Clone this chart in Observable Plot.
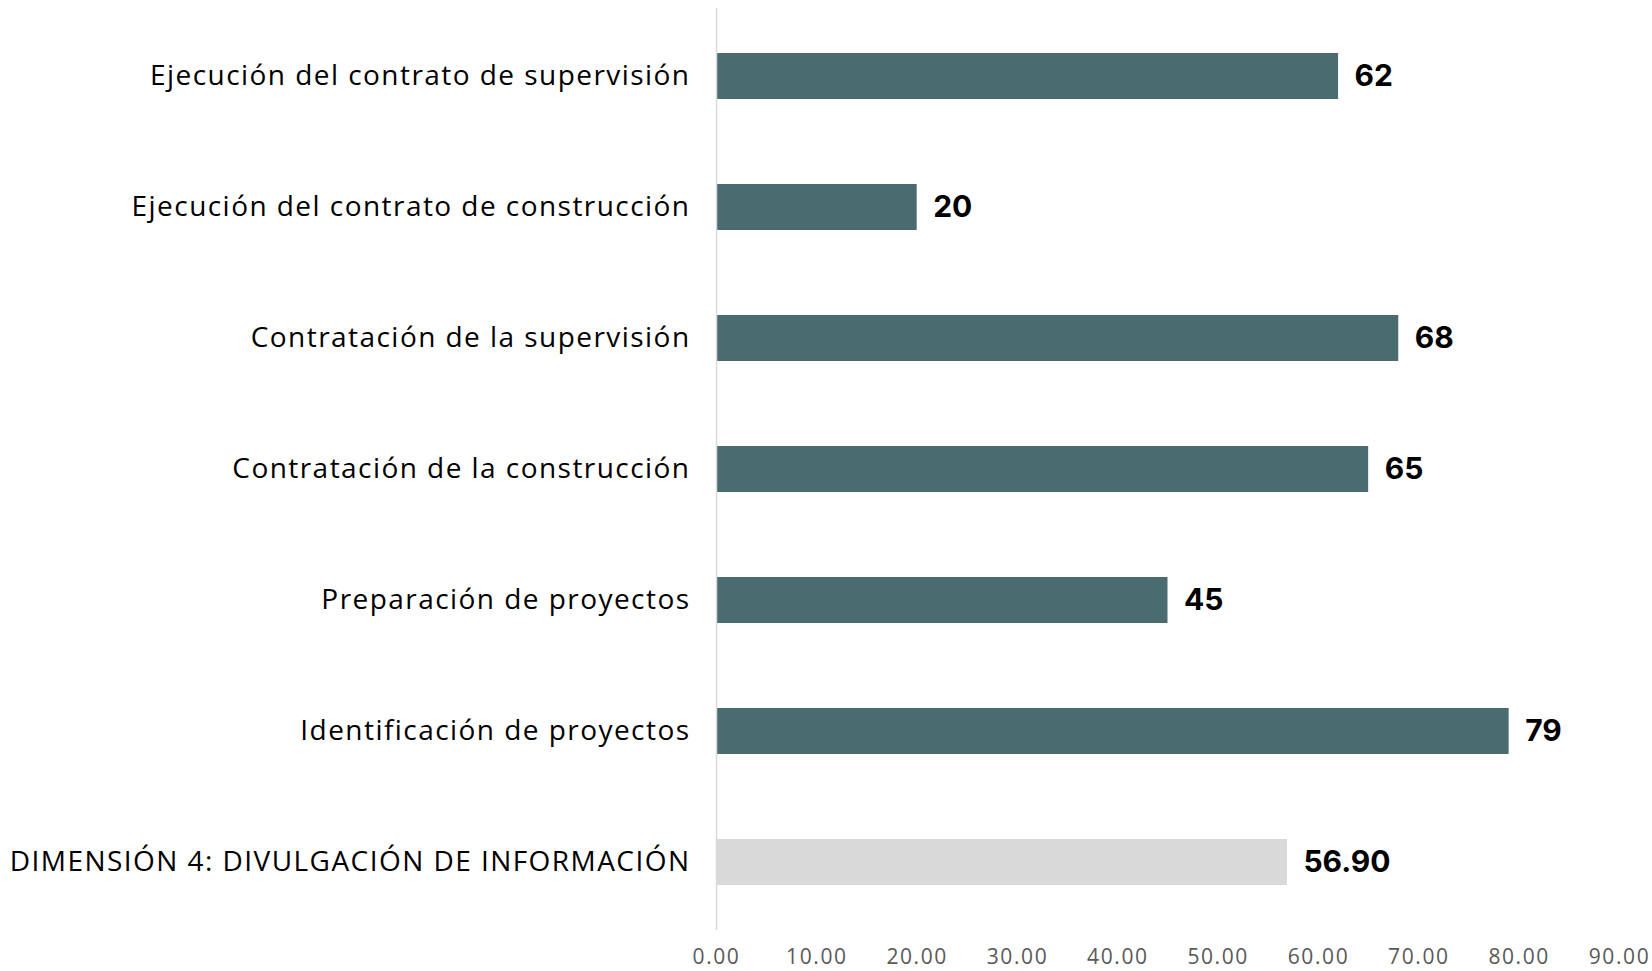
<!DOCTYPE html>
<html>
<head>
<meta charset="utf-8">
<script src="https://cdn.jsdelivr.net/npm/d3@7"></script>
<script src="https://cdn.jsdelivr.net/npm/@observablehq/plot@0.6"></script>
<style>
  html, body { margin: 0; padding: 0; background: #ffffff; }
  #chart svg { display: block; }
  g[aria-label="y-axis tick label"] text { letter-spacing: 1.45px; }
  g[aria-label="x-axis tick label"] text { letter-spacing: 1.6px; }
</style>
</head>
<body>
<div id="chart"></div>
<script>
const categories = [
  "Ejecución del contrato de supervisión",
  "Ejecución del contrato de construcción",
  "Contratación de la supervisión",
  "Contratación de la construcción",
  "Preparación de proyectos",
  "Identificación de proyectos",
  "DIMENSIÓN 4: DIVULGACIÓN DE INFORMACIÓN"
];
const values = [62, 20, 68, 65, 45, 79, 56.9];
const valueLabels = ["62", "20", "68", "65", "45", "79", "56.90"];
const groups = ["Etapa", "Etapa", "Etapa", "Etapa", "Etapa", "Etapa", "Dimensión"];
const xTicks = [0, 10, 20, 30, 40, 50, 60, 70, 80, 90];

const data = categories.map((c, i) => ({
  category: c, value: values[i], label: valueLabels[i], group: groups[i]
}));

const chart = Plot.plot({
  width: 1652,
  height: 971,
  marginTop: 8,
  marginBottom: 41,
  marginLeft: 716,
  marginRight: 33,
  style: { background: "#ffffff", overflow: "visible" },
  x: { domain: [0, 90], axis: null },
  y: { domain: categories, paddingInner: 0.65, paddingOuter: 0.325, axis: null },
  color: { domain: ["Etapa", "Dimensión"], range: ["#4a6b6f", "#d9d9d9"] },
  marks: [
    Plot.barX(data, { x: "value", y: "category", fill: "group" }),
    Plot.ruleX([0], { stroke: "#d9d9d9", strokeWidth: 1.5 }),
    Plot.axisY({
      tickSize: 0, tickPadding: 26, label: null,
      fontSize: 28, fill: "#000000",
      fontFamily: "'Open Sans', sans-serif"
    }),
    Plot.axisX(xTicks, {
      tickSize: 0, tickPadding: 19, label: null,
      tickFormat: d3.format(".2f"),
      fontSize: 21, fill: "#595959",
      fontFamily: "'Open Sans', sans-serif"
    }),
    Plot.text(data, {
      x: "value", y: "category", text: "label",
      textAnchor: "start", dx: 16,
      fontSize: 30, fontWeight: "bold", fill: "#000000",
      fontFamily: "Inter, sans-serif"
    })
  ]
});
document.getElementById("chart").appendChild(chart);
</script>
</body>
</html>
